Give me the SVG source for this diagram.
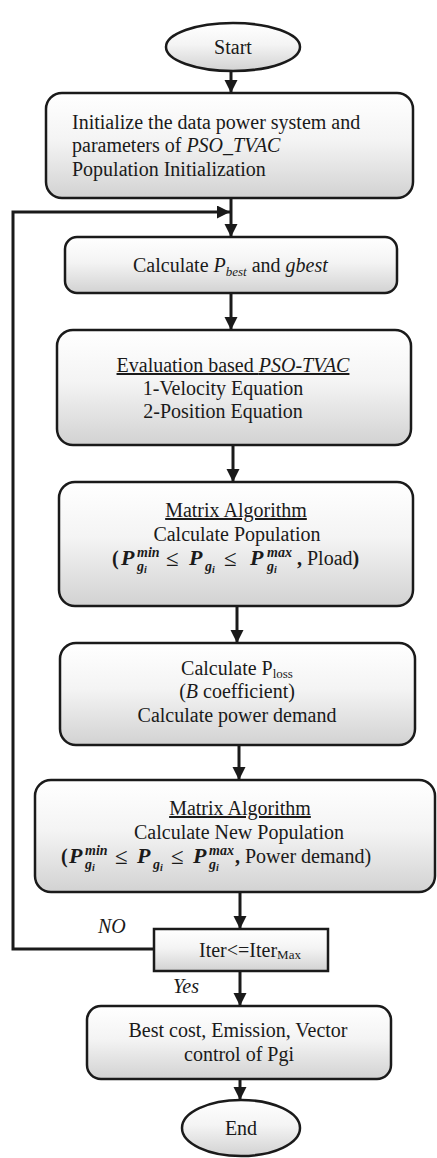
<svg xmlns="http://www.w3.org/2000/svg" width="437" height="1158" viewBox="0 0 437 1158">
<style>
.t{font-family:"Liberation Serif","Times New Roman",serif;font-size:20px;fill:#1a1a1a}
.i{font-style:italic}
.b{font-weight:bold}
.m{font-family:"Liberation Serif","Times New Roman",serif;font-weight:bold;font-style:italic;fill:#1a1a1a}
.le{font-family:"Liberation Serif","Times New Roman",serif;font-size:23px;fill:#1a1a1a}
.box{fill:url(#g);stroke:#1a1a1a;stroke-width:2.5}
.c{fill:none;stroke:#1a1a1a;stroke-width:3}
</style>
<defs>
<linearGradient id="g" x1="0" y1="0" x2="0" y2="1">
<stop offset="0" stop-color="#ffffff"/>
<stop offset="0.45" stop-color="#f4f4f4"/>
<stop offset="1" stop-color="#d2d2d2"/>
</linearGradient>
<marker id="a" markerUnits="userSpaceOnUse" markerWidth="14" markerHeight="14" refX="13" refY="6.5" orient="auto">
<path d="M0,0 L13,6.5 L0,13 z" fill="#1a1a1a"/>
</marker>
</defs>
<g id="connectors">
<line class="c" x1="231" y1="72" x2="231" y2="93" marker-end="url(#a)"/>
<line class="c" x1="231" y1="198" x2="231" y2="237" marker-end="url(#a)"/>
<polyline class="c" points="154,949 13,949 13,212 230,212" marker-end="url(#a)"/>
<line class="c" x1="231" y1="293" x2="231" y2="330" marker-end="url(#a)"/>
<line class="c" x1="233" y1="445" x2="233" y2="482" marker-end="url(#a)"/>
<line class="c" x1="237" y1="606" x2="237" y2="643" marker-end="url(#a)"/>
<line class="c" x1="239" y1="745" x2="239" y2="780" marker-end="url(#a)"/>
<line class="c" x1="240" y1="892" x2="240" y2="929" marker-end="url(#a)"/>
<line class="c" x1="240" y1="971" x2="240" y2="1006" marker-end="url(#a)"/>
<line class="c" x1="240" y1="1079" x2="240" y2="1100" marker-end="url(#a)"/>
<text class="t i" x="98" y="933">NO</text>
<text class="t i" x="173" y="993">Yes</text>
</g>
<g id="start">
<ellipse class="box" cx="233" cy="47" rx="67" ry="24"/>
<text class="t" x="233" y="54" text-anchor="middle">Start</text>
</g>
<g id="init">
<rect class="box" x="46" y="93" width="367" height="105" rx="16"/>
<text class="t" x="72" y="129">Initialize the data power system and</text>
<text class="t" x="72" y="152">parameters of <tspan class="i">PSO_TVAC</tspan></text>
<text class="t" x="72" y="176">Population Initialization</text>
</g>
<g id="pbest">
<rect class="box" x="65" y="237" width="332" height="56" rx="12"/>
<text class="t" x="133" y="272">Calculate <tspan class="i">P</tspan><tspan class="i" font-size="13" dy="4">best</tspan><tspan dy="-4"> and </tspan><tspan class="i">gbest</tspan></text>
</g>
<g id="evaluation">
<rect class="box" x="57" y="330" width="354" height="115" rx="16"/>
<text class="t" x="233" y="372" text-anchor="middle" text-decoration="underline">Evaluation based <tspan class="i">PSO-TVAC</tspan></text>
<text class="t" x="223" y="395" text-anchor="middle">1-Velocity Equation</text>
<text class="t" x="223" y="418" text-anchor="middle">2-Position Equation</text>
</g>
<g id="matrix1">
<rect class="box" x="59" y="482" width="354" height="124" rx="16"/>
<text class="t" x="236" y="517" text-anchor="middle" text-decoration="underline">Matrix Algorithm</text>
<text class="t" x="237" y="541" text-anchor="middle">Calculate Population</text>
<text class="t b" x="112" y="565">(</text>
<text class="m" x="121" y="565" font-size="22">P</text>
<text class="m" x="137" y="557" font-size="14">min</text>
<text class="m" x="137" y="571" font-size="14">g<tspan font-size="10" dy="2">i</tspan></text>
<text class="le" x="166" y="566">≤</text>
<text class="m" x="189" y="565" font-size="22">P</text>
<text class="m" x="205" y="571" font-size="14">g<tspan font-size="10" dy="2">i</tspan></text>
<text class="le" x="224" y="566">≤</text>
<text class="m" x="250" y="565" font-size="22">P</text>
<text class="m" x="267" y="557" font-size="14">max</text>
<text class="m" x="267" y="571" font-size="14">g<tspan font-size="10" dy="2">i</tspan></text>
<text class="t" x="297" y="565"><tspan class="b">,</tspan> Pload<tspan class="b">)</tspan></text>
</g>
<g id="ploss">
<rect class="box" x="60" y="643" width="355" height="102" rx="16"/>
<text class="t" x="237" y="675" text-anchor="middle">Calculate P<tspan font-size="13" dy="3">loss</tspan></text>
<text class="t" x="237" y="698" text-anchor="middle">(<tspan class="i">B</tspan> coefficient)</text>
<text class="t" x="237" y="722" text-anchor="middle">Calculate power demand</text>
</g>
<g id="matrix2">
<rect class="box" x="35" y="780" width="400" height="112" rx="16"/>
<text class="t" x="240" y="815" text-anchor="middle" text-decoration="underline">Matrix Algorithm</text>
<text class="t" x="239" y="839" text-anchor="middle">Calculate New Population</text>
<text class="t b" x="61" y="863">(</text>
<text class="m" x="69" y="863" font-size="22">P</text>
<text class="m" x="85" y="855" font-size="14">min</text>
<text class="m" x="85" y="869" font-size="14">g<tspan font-size="10" dy="2">i</tspan></text>
<text class="le" x="115" y="864">≤</text>
<text class="m" x="137" y="863" font-size="22">P</text>
<text class="m" x="153" y="869" font-size="14">g<tspan font-size="10" dy="2">i</tspan></text>
<text class="le" x="171" y="864">≤</text>
<text class="m" x="193" y="863" font-size="22">P</text>
<text class="m" x="209" y="855" font-size="14">max</text>
<text class="m" x="209" y="869" font-size="14">g<tspan font-size="10" dy="2">i</tspan></text>
<text class="t" x="235" y="863"><tspan class="b">,</tspan> Power demand)</text>
</g>
<g id="decision">
<rect class="box" x="154" y="929" width="174" height="42"/>
<text class="t" x="199" y="957">Iter&lt;=Iter<tspan font-size="13" dy="2">Max</tspan></text>
</g>
<g id="result">
<rect class="box" x="87" y="1006" width="304" height="73" rx="14"/>
<text class="t" x="238" y="1037" text-anchor="middle">Best cost, Emission, Vector</text>
<text class="t" x="239" y="1061" text-anchor="middle">control of Pgi</text>
</g>
<g id="end">
<ellipse class="box" cx="241" cy="1128" rx="59" ry="28"/>
<text class="t" x="241" y="1135" text-anchor="middle">End</text>
</g>
</svg>
